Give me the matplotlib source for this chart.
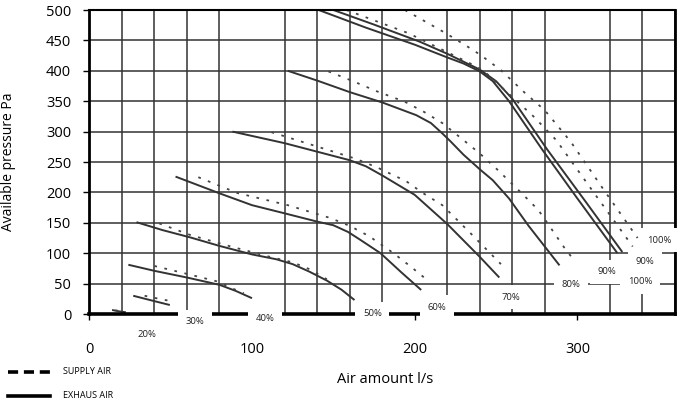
import numpy as np
import matplotlib.pyplot as plt
from matplotlib.lines import Line2D

plt.rcParams['font.family'] = ['Open Sans', 'DejaVu Sans']

# exhaust air (solid) curves, air amount l/s vs available pressure Pa
ex20_x = [14, 18, 22.5]
ex20_y = [6.6, 4.5, 2.8]
ex30_x = [27, 38, 49.5]
ex30_y = [30, 22.5, 14.8]
ex40_x = [24, 40, 60, 80, 90, 100]
ex40_y = [81, 71, 60, 48, 38, 26]
ex50_x = [29, 45, 62, 80, 100, 115, 125, 135, 146, 155, 163]
ex50_y = [151, 138, 126, 112, 98, 90, 82, 70, 55, 40, 23]
ex60_x = [53, 80, 100, 120, 140, 150, 159, 166, 179, 192, 204]
ex60_y = [226, 198.5, 179, 165.6, 152, 146, 135, 123, 100, 68, 39.5]
ex70_x = [88, 120, 160, 170, 180, 190, 200, 220, 240, 252]
ex70_y = [300, 281, 253, 243, 228, 212, 196, 148, 94, 60]
ex80_x = [122, 140, 160, 180, 201, 210, 217, 222, 230, 240, 248, 258, 270, 289]
ex80_y = [400, 384, 365, 348, 327, 314, 297, 284, 262, 238, 220, 190, 145, 80]
ex90_x = [141, 170, 200, 220, 230, 240, 248, 258, 278.5, 300, 324.6]
ex90_y = [500, 471, 443, 422, 412, 399, 383, 350, 270, 190, 100]
ex100_x = [150, 175, 203, 220, 240, 250, 260, 281.6, 305, 327.6]
ex100_y = [500, 476, 448, 428, 402, 383, 354, 270, 185, 102]

# supply air (dashed) curves
su20_x = [16, 22]
su20_y = [6, 3.5]
su30_x = [34, 41, 48.5]
su30_y = [30, 26, 22]
su40_x = [40, 60, 78, 88, 95]
su40_y = [79, 66, 54, 42, 34]
su50_x = [43, 62, 87, 111, 125, 136, 146]
su50_y = [149, 130, 111, 94, 85, 73, 57]
su60_x = [67, 91, 122, 148, 160, 172, 187, 198, 209]
su60_y = [225, 199, 179, 158, 145, 128, 100, 77, 53]
su70_x = [112, 137, 163, 177, 195, 205, 217, 235, 253]
su70_y = [299, 278, 256, 241, 218, 199, 179, 131, 82]
su80_x = [147, 162, 177, 194, 206, 217, 230, 240, 251, 266, 276, 283, 293, 297]
su80_y = [399, 383, 366, 349, 332, 314, 286, 264, 237, 198, 171, 144, 105, 92]
su90_x = [158, 180, 196, 219, 238, 244, 262, 273, 287, 310, 334]
su90_y = [500, 478, 462, 432, 407, 396, 352, 325, 286, 200, 111]
su100_x = [194, 219, 236, 242, 253, 268, 280, 296, 316, 337]
su100_y = [500, 462, 434, 423, 401, 363, 335, 283, 205, 125]

exhaust = [(ex20_x, ex20_y), (ex30_x, ex30_y), (ex40_x, ex40_y), (ex50_x, ex50_y),
           (ex60_x, ex60_y), (ex70_x, ex70_y), (ex80_x, ex80_y), (ex90_x, ex90_y),
           (ex100_x, ex100_y)]
supply = [(su20_x, su20_y), (su30_x, su30_y), (su40_x, su40_y), (su50_x, su50_y),
          (su60_x, su60_y), (su70_x, su70_y), (su80_x, su80_y), (su90_x, su90_y),
          (su100_x, su100_y)]

# percent labels
lab_text = ['20%', '30%', '40%', '50%', '60%', '70%', '80%', '90%', '100%', '90%', '100%']
lab_x = [35.6, 65, 108, 174, 213.5, 259, 296, 318.4, 338.6, 341.5, 350.5]
lab_y = [-33, -12.6, -7, 0, 11, 27.5, 47.7, 69.6, 53, 86, 121.7]

x_ticks = [0, 100, 200, 300]
y_ticks = list(range(0, 501, 50))

fig = plt.figure(figsize=(6.84, 4.03), dpi=100)
ax = fig.add_axes([89.3 / 684, 1 - 314 / 403, (675 - 89.3) / 684, 304 / 403])

ax.set_xlim(0, 360)
ax.set_ylim(0, 500)
ax.set_xticks(x_ticks)
ax.set_xticks(np.arange(0, 361, 20), minor=True)
ax.set_yticks(y_ticks)
ax.grid(which='minor', axis='x', color='#333333', lw=1.1)
ax.grid(which='major', axis='y', color='#333333', lw=1.1)
ax.tick_params(which='minor', length=0)
ax.tick_params(axis='x', length=4, width=1, pad=16, labelsize=10.5)
ax.tick_params(axis='y', length=4, width=1, pad=9, labelsize=10.5)

for side, w in [('left', 2), ('bottom', 2.6), ('right', 2), ('top', 1.5)]:
    ax.spines[side].set_linewidth(w)
    ax.spines[side].set_color('black')

for xs, ys in exhaust:
    ax.plot(xs, ys, color='#333333', lw=1.4, solid_capstyle='butt')
for xs, ys in supply:
    ax.plot(xs, ys, color='#444444', lw=1.3, dashes=(1.5, 4.2))

for t, x, y in zip(lab_text, lab_x, lab_y):
    ax.text(x, y, t, fontsize=6.8, ha='center', va='center', color='#222222',
            clip_on=False, zorder=5,
            bbox=dict(boxstyle='square,pad=0.8', facecolor='white', edgecolor='none'))

ax.set_xlabel('Air amount l/s', fontsize=10.5)
ax.xaxis.set_label_coords(0.505, -0.19)
ax.set_ylabel('Available pressure Pa', fontsize=10)
ax.yaxis.set_label_coords(-0.125, 0.5)

# legend at the bottom left
fig.add_artist(Line2D([8 / 684, 50 / 684], [1 - 372 / 403] * 2, color='black',
                      lw=2.6, dashes=(2.8, 1.6)))
fig.add_artist(Line2D([8 / 684, 50 / 684], [1 - 396 / 403] * 2, color='black', lw=2.6))
fig.text(63 / 684, 1 - 372 / 403, 'SUPPLY AIR', fontsize=6.5, va='center')
fig.text(63 / 684, 1 - 396 / 403, 'EXHAUS AIR', fontsize=6.5, va='center')

fig.savefig('out.png', dpi=100)
